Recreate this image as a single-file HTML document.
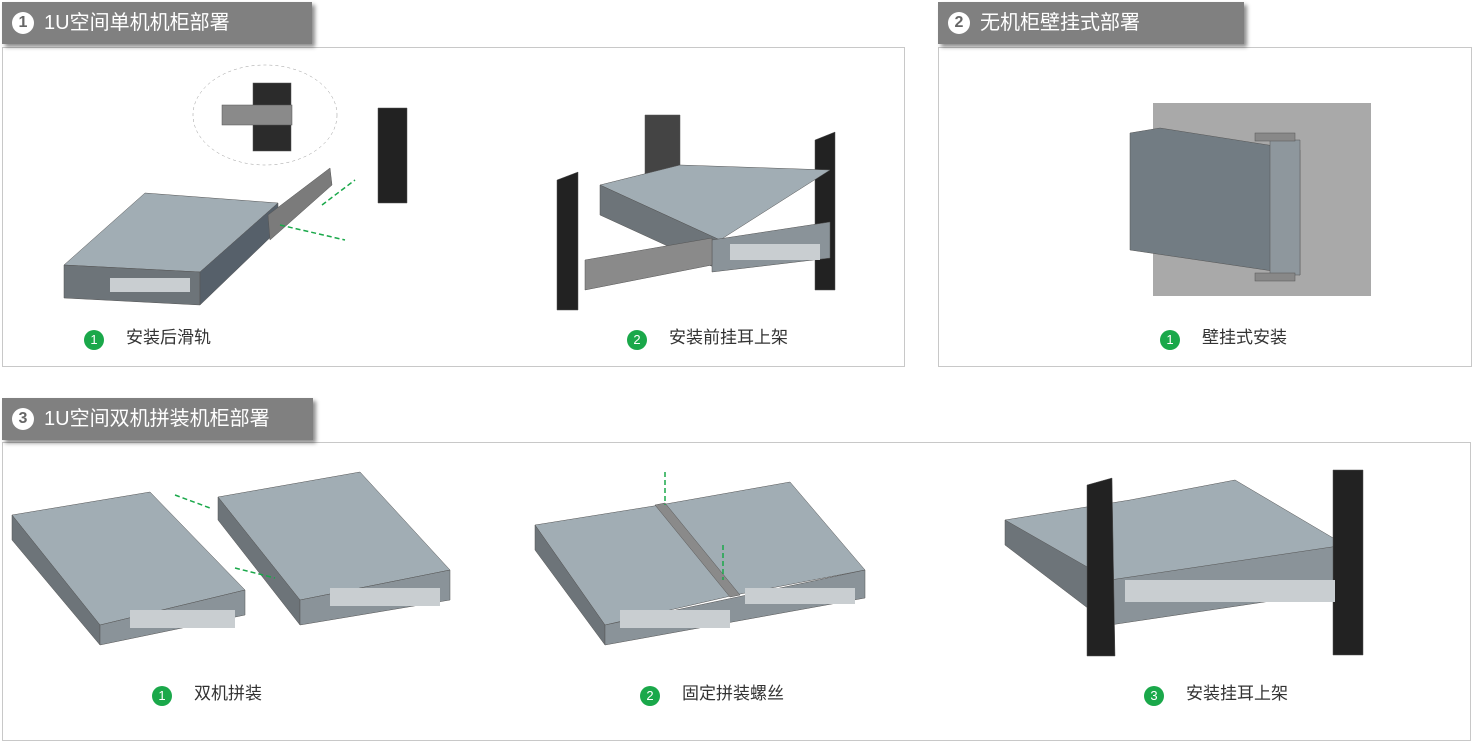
<!DOCTYPE html>
<html><head><meta charset="utf-8"><style>
body{margin:0;width:1474px;height:744px;background:#fff;position:relative;overflow:hidden;font-family:"Liberation Sans","Noto Sans CJK SC",sans-serif}
.hd{position:absolute;background:#808080;color:#fff;font-size:20px;height:42px;line-height:42px;box-shadow:3px 3px 4px rgba(0,0,0,.45);padding-left:10px;box-sizing:border-box}
.hd b{display:inline-block;width:22px;height:22px;border-radius:50%;background:#fff;color:#666;font-size:16px;line-height:22px;text-align:center;margin-right:10px;vertical-align:2px}
.pn{position:absolute;border:1px solid #c8c8c8;box-sizing:border-box}
.lb{position:absolute;font-size:17px;color:#333;line-height:20px}
.lb i{display:inline-block;width:20px;height:20px;border-radius:50%;background:#1aa84a;color:#fff;font-style:normal;font-size:13px;text-align:center;line-height:20px;margin-right:22px;vertical-align:-1px}
svg{position:absolute;left:0;top:0}
</style></head><body>
<div class="pn" style="left:2px;top:47px;width:903px;height:320px"></div>
<div class="pn" style="left:938px;top:47px;width:534px;height:320px"></div>
<div class="pn" style="left:2px;top:442px;width:1469px;height:299px"></div>
<div class="hd" style="left:2px;top:2px;width:310px"><b>1</b>1U空间单机机柜部署</div>
<div class="hd" style="left:938px;top:2px;width:306px"><b>2</b>无机柜壁挂式部署</div>
<div class="hd" style="left:2px;top:398px;width:311px"><b>3</b>1U空间双机拼装机柜部署</div>
<svg width="1474" height="744">
<g stroke="#555" stroke-width="0.5">
<ellipse cx="265" cy="115" rx="72" ry="50" fill="none" stroke="#999" stroke-dasharray="3,3"/>
<rect x="253" y="83" width="38" height="68" fill="#2b2b2b"/>
<rect x="222" y="105" width="70" height="20" fill="#8a8a8a"/>
<polygon points="378,108 407,108 407,203 378,203" fill="#222"/>
<polygon points="64,265 145,193 278,203 200,272" fill="#a1adb4"/>
<polygon points="64,265 200,272 200,305 64,298" fill="#6d7479"/>
<polygon points="200,272 278,203 278,230 200,305" fill="#56606a"/>
<polygon points="268,215 330,168 332,185 270,240" fill="#7b7b7b"/>
<polygon points="557,180 578,172 578,310 557,310" fill="#222"/>
<polygon points="815,140 835,132 835,290 815,290" fill="#222"/>
<polygon points="645,115 680,115 680,220 645,220" fill="#444"/>
<polygon points="600,185 680,165 830,170 720,240" fill="#a1adb4"/>
<polygon points="600,185 720,240 720,270 600,215" fill="#6d7479"/>
<polygon points="712,240 830,222 830,258 712,272" fill="#8a9399"/>
<polygon points="585,260 712,238 712,265 585,290" fill="#8a8a8a"/>
<rect x="1153" y="103" width="218" height="193" fill="#a9a9a9" stroke="none"/>
<polygon points="1130,133 1160,128 1300,150 1300,275 1130,250" fill="#727c83"/>
<polygon points="1270,140 1300,140 1300,275 1270,275" fill="#8e979d"/>
<rect x="1255" y="133" width="40" height="8" fill="#888"/>
<rect x="1255" y="273" width="40" height="8" fill="#888"/>
<polygon points="12,515 150,492 245,590 100,625" fill="#a1adb4"/>
<polygon points="12,515 100,625 100,645 12,540" fill="#6d7479"/>
<polygon points="100,625 245,590 245,615 100,645" fill="#8a9399"/>
<polygon points="218,497 360,472 450,570 300,600" fill="#a1adb4"/>
<polygon points="218,497 300,600 300,625 218,520" fill="#6d7479"/>
<polygon points="300,600 450,570 450,600 300,625" fill="#8a9399"/>
<polygon points="535,525 660,505 735,595 605,625" fill="#a1adb4"/>
<polygon points="660,505 790,482 865,570 735,595" fill="#a1adb4"/>
<polygon points="535,525 605,625 605,645 535,550" fill="#6d7479"/>
<polygon points="605,625 865,570 865,598 605,645" fill="#8a9399"/>
<polygon points="655,505 665,503 740,595 730,597" fill="#8a8a8a"/>
<polygon points="1005,520 1130,500 1235,480 1345,545 1110,585" fill="#a1adb4"/>
<polygon points="1110,580 1345,545 1345,590 1110,625" fill="#8a9399"/>
<polygon points="1005,520 1110,580 1110,625 1005,545" fill="#6d7479"/>
<polygon points="1087,485 1112,478 1115,656 1087,656" fill="#222"/>
<polygon points="1333,470 1363,470 1363,655 1333,655" fill="#222"/>
</g>
<g fill="#c9ced1" stroke="none">
<rect x="110" y="278" width="80" height="14"/>
<rect x="730" y="244" width="90" height="16"/>
<rect x="130" y="610" width="105" height="18"/>
<rect x="330" y="588" width="110" height="18"/>
<rect x="620" y="610" width="110" height="18"/>
<rect x="745" y="588" width="110" height="16"/>
<rect x="1125" y="580" width="210" height="22"/>
</g>
<g stroke="#1aa84a" stroke-width="1.5" stroke-dasharray="5,3" fill="none">
<path d="M280,225 L345,240 M322,205 L355,180"/>
<path d="M175,495 L210,508 M235,568 L275,578"/>
<path d="M665,472 L665,505 M723,545 L723,580"/>
</g>
</svg>
<div class="lb" style="left:84px;top:328px"><i>1</i>安装后滑轨</div>
<div class="lb" style="left:627px;top:328px"><i>2</i>安装前挂耳上架</div>
<div class="lb" style="left:1160px;top:328px"><i>1</i>壁挂式安装</div>
<div class="lb" style="left:152px;top:684px"><i>1</i>双机拼装</div>
<div class="lb" style="left:640px;top:684px"><i>2</i>固定拼装螺丝</div>
<div class="lb" style="left:1144px;top:684px"><i>3</i>安装挂耳上架</div>
</body></html>
